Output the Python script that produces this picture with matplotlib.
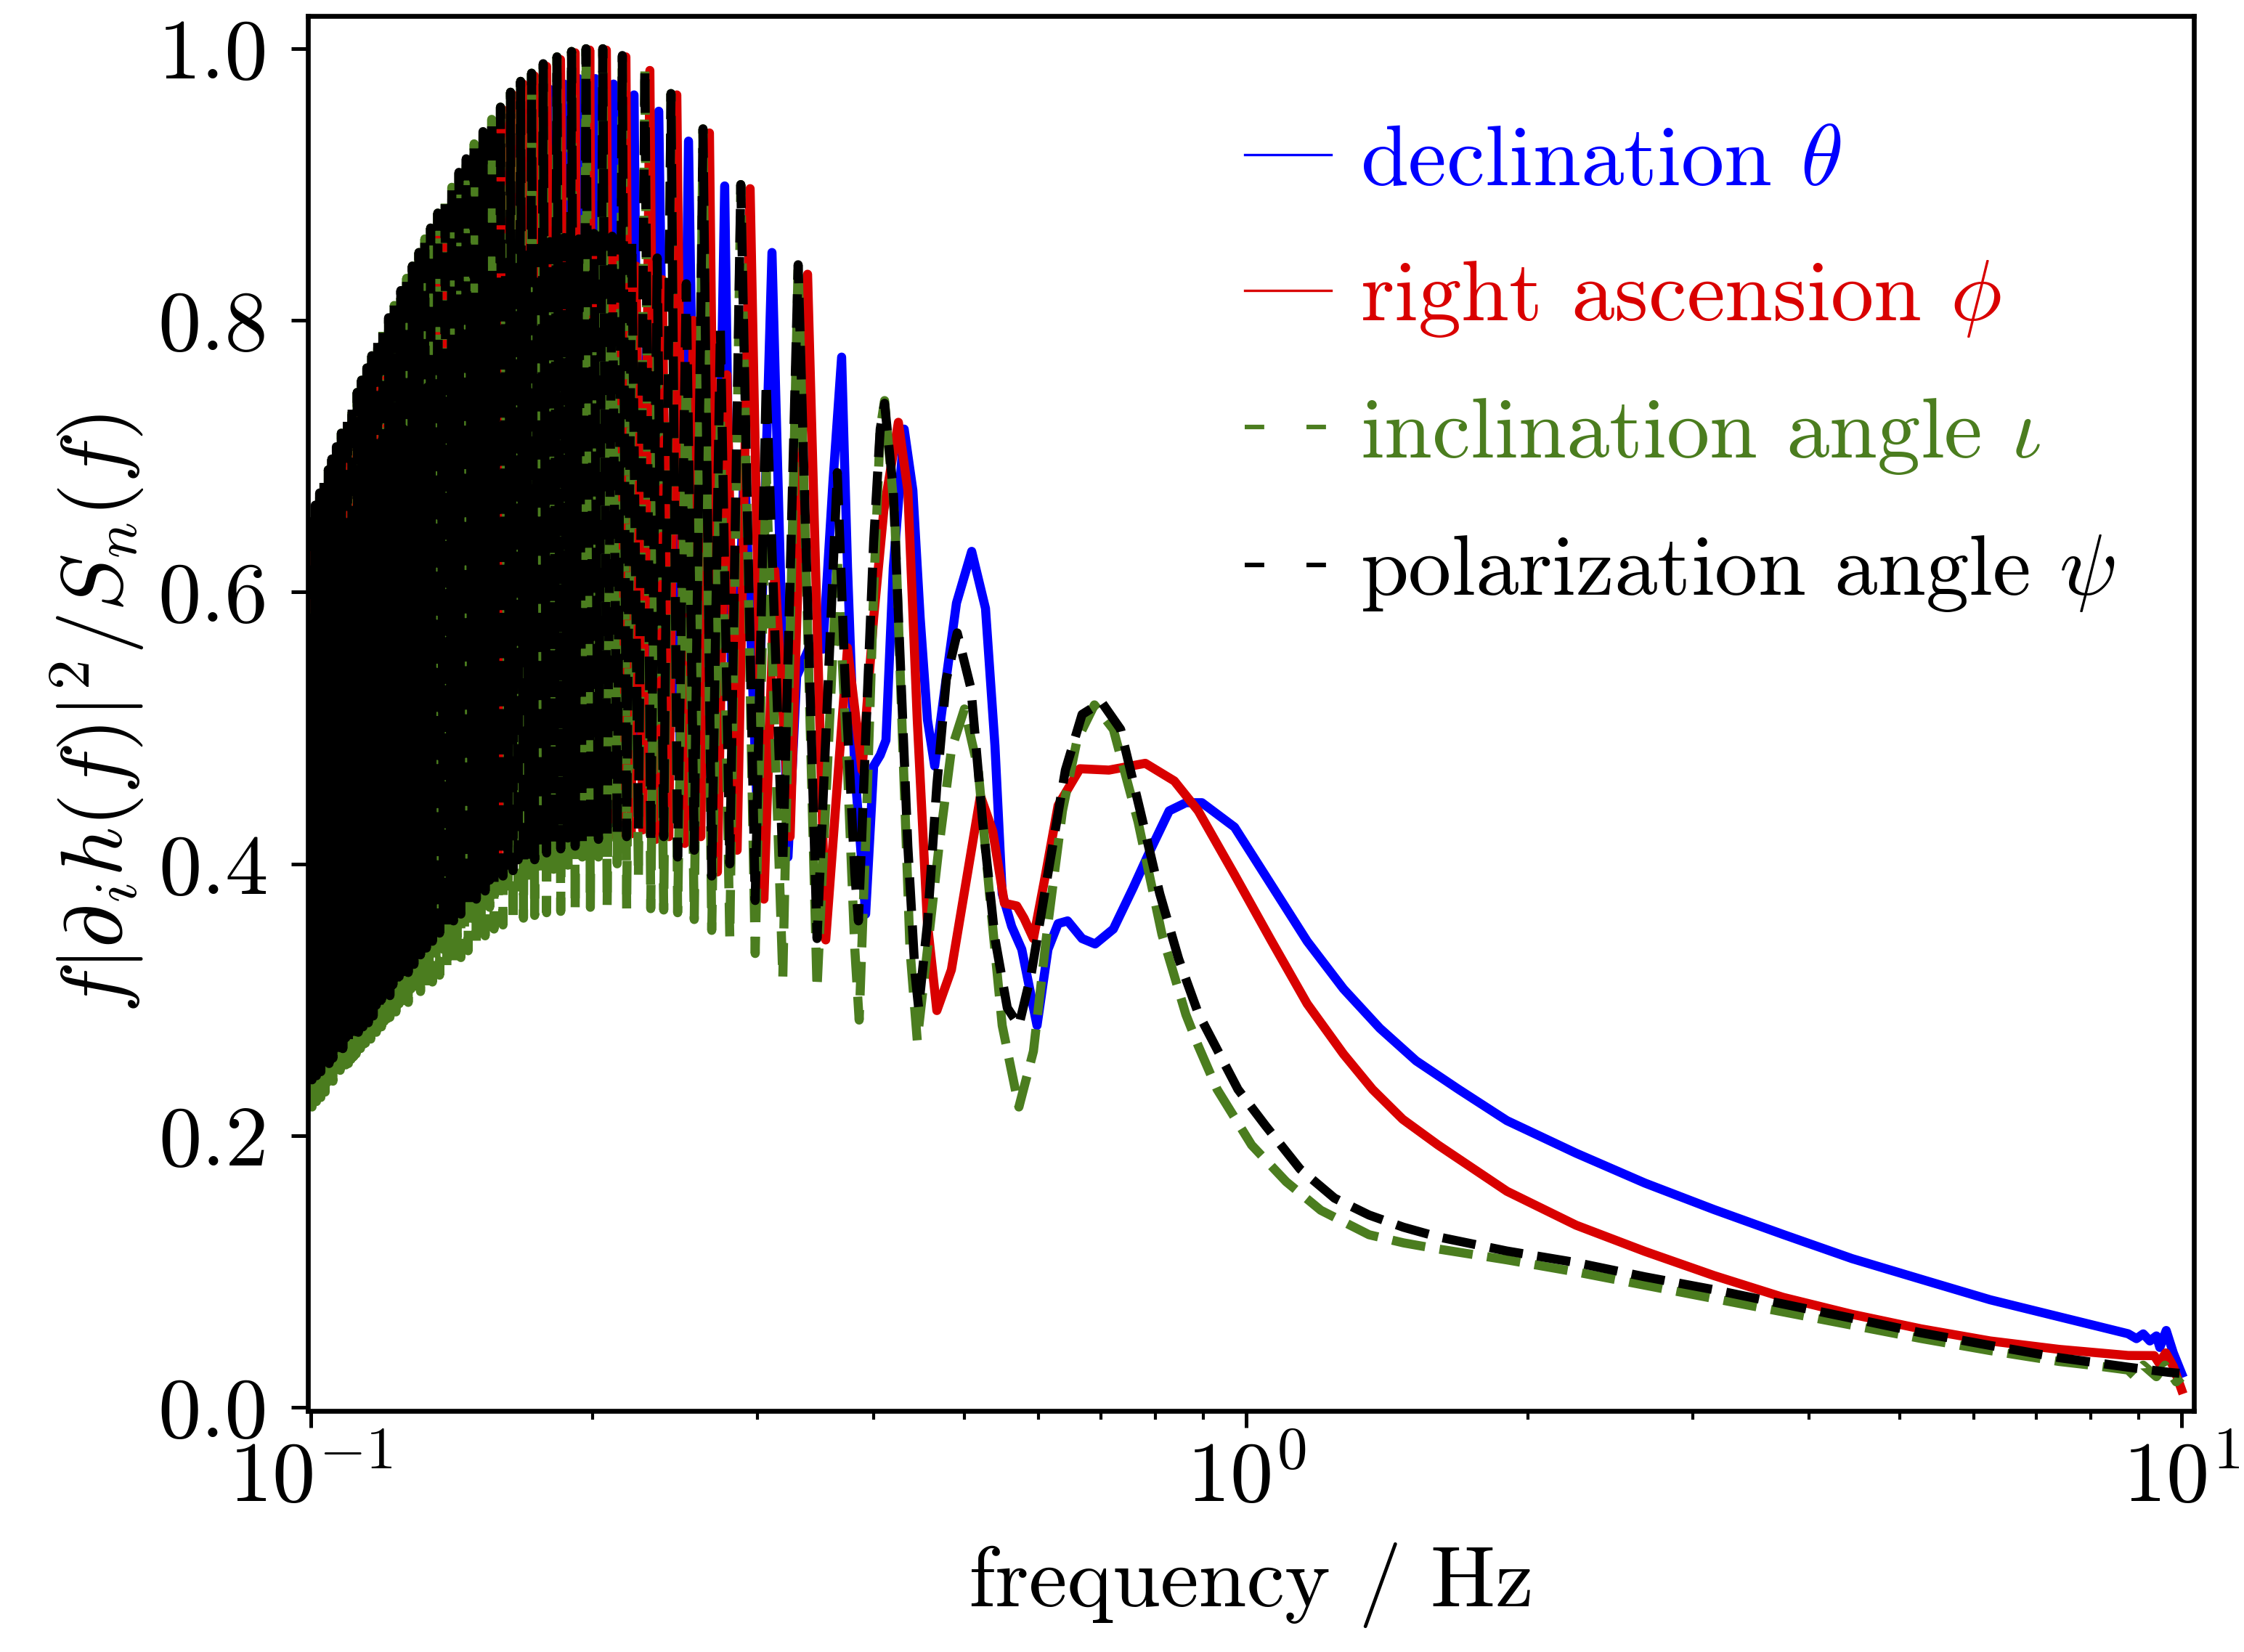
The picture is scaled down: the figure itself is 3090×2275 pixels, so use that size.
import numpy as np
import matplotlib
matplotlib.use("Agg")
import matplotlib.pyplot as plt
from matplotlib.lines import Line2D
from matplotlib.ticker import LogLocator, NullFormatter

# ---------------- data ----------------
# frequency in Hz, value of f|d_i h(f)|^2 / S_n(f)

# ---- polarization angle psi (black) ----
black_peak_f = [0.1000, 0.1011, 0.1022, 0.1033, 0.1044, 0.1053, 0.1065, 0.1078, 0.1094, 0.1107,
                0.1121, 0.1133, 0.1148, 0.1162, 0.1179, 0.1194, 0.1211, 0.1228, 0.1248, 0.1266,
                0.1284, 0.1305, 0.1324, 0.1343, 0.1367, 0.1392, 0.1415, 0.1440, 0.1466, 0.1495,
                0.1528, 0.1561, 0.1595, 0.1635, 0.1676, 0.1722, 0.1772, 0.1833, 0.1900]
black_peak_v = [0.655, 0.664, 0.673, 0.682, 0.690, 0.698, 0.707, 0.717, 0.728, 0.738,
                0.747, 0.756, 0.765, 0.774, 0.785, 0.793, 0.802, 0.811, 0.822, 0.831,
                0.840, 0.850, 0.860, 0.868, 0.879, 0.889, 0.898, 0.909, 0.919, 0.930,
                0.939, 0.948, 0.957, 0.968, 0.976, 0.982, 0.989, 0.994, 0.998]
# frequencies half-way between the main black peaks
mid_f = [0.1005, 0.1016, 0.1027, 0.1038, 0.1048, 0.1059, 0.1071, 0.1086, 0.1100, 0.1114,
         0.1127, 0.1140, 0.1155, 0.1170, 0.1186, 0.1202, 0.1219, 0.1238, 0.1257, 0.1275,
         0.1294, 0.1314, 0.1333, 0.1355, 0.1379, 0.1403, 0.1427, 0.1453, 0.1480, 0.1511,
         0.1544, 0.1578, 0.1615, 0.1655, 0.1699, 0.1747, 0.1802, 0.1866]
# troughs on either side of each secondary peak
quarter_f = [0.1003, 0.1008, 0.1014, 0.1019, 0.1025, 0.1030, 0.1036, 0.1041, 0.1046, 0.1051,
             0.1056, 0.1062, 0.1068, 0.1075, 0.1082, 0.1090, 0.1097, 0.1104, 0.1111, 0.1118,
             0.1124, 0.1130, 0.1137, 0.1144, 0.1152, 0.1159, 0.1166, 0.1175, 0.1183, 0.1190,
             0.1198, 0.1207, 0.1215, 0.1224, 0.1233, 0.1243, 0.1253, 0.1262, 0.1271, 0.1280,
             0.1289, 0.1300, 0.1310, 0.1319, 0.1329, 0.1338, 0.1349, 0.1361, 0.1373, 0.1386,
             0.1398, 0.1409, 0.1421, 0.1434, 0.1447, 0.1460, 0.1473, 0.1488, 0.1503, 0.1520,
             0.1536, 0.1553, 0.1570, 0.1587, 0.1605, 0.1625, 0.1645, 0.1666, 0.1688, 0.1711,
             0.1735, 0.1760, 0.1787, 0.1818, 0.1850, 0.1883]
black_sec_f = mid_f
black_sec_v = [0.580, 0.587, 0.595, 0.602, 0.608, 0.615, 0.623, 0.632, 0.641, 0.649,
               0.657, 0.664, 0.672, 0.680, 0.688, 0.695, 0.703, 0.711, 0.720, 0.727,
               0.735, 0.744, 0.751, 0.759, 0.768, 0.776, 0.785, 0.794, 0.803, 0.811,
               0.819, 0.826, 0.835, 0.843, 0.848, 0.853, 0.858, 0.861]
black_trough_f = quarter_f
black_trough_v = [0.241, 0.249, 0.244, 0.252, 0.247, 0.255, 0.251, 0.259, 0.253, 0.261,
                  0.257, 0.265, 0.260, 0.268, 0.264, 0.272, 0.268, 0.276, 0.272, 0.280,
                  0.276, 0.284, 0.280, 0.288, 0.283, 0.291, 0.288, 0.296, 0.292, 0.300,
                  0.298, 0.306, 0.303, 0.311, 0.309, 0.317, 0.315, 0.323, 0.320, 0.328,
                  0.326, 0.334, 0.333, 0.341, 0.338, 0.346, 0.343, 0.351, 0.349, 0.357,
                  0.353, 0.361, 0.358, 0.366, 0.363, 0.371, 0.368, 0.376, 0.374, 0.382,
                  0.380, 0.388, 0.386, 0.394, 0.391, 0.399, 0.395, 0.403, 0.399, 0.407,
                  0.403, 0.411, 0.408, 0.416, 0.411, 0.419]
black_f = [0.1917, 0.1934, 0.1951, 0.1969, 0.1990, 0.2008, 0.2030, 0.2052, 0.2074, 0.2100,
           0.2126, 0.2153, 0.2176, 0.2204, 0.2240, 0.2276, 0.2309, 0.2346, 0.2384, 0.2427,
           0.2467, 0.2520, 0.2570, 0.2626, 0.2683, 0.2741, 0.2805, 0.2882, 0.2986, 0.3068,
           0.3196, 0.3319, 0.3477, 0.3655, 0.3721, 0.3816, 0.3850, 0.3926, 0.3997, 0.4062,
           0.4106, 0.4195, 0.4271, 0.4348, 0.4426, 0.4465, 0.4563, 0.4670, 0.4780, 0.4910,
           0.5079, 0.5227, 0.5388, 0.5554, 0.5715, 0.5891, 0.6139, 0.6408, 0.6677, 0.7006,
           0.7341, 0.7704, 0.8084, 0.8469, 0.8887, 0.980, 1.0485, 1.142, 1.243, 1.353,
           1.473, 1.604, 1.900, 2.253, 2.669, 3.164, 3.750, 4.444, 5.267, 6.243,
           7.398, 8.768, 9.69, 9.95]
black_v = [0.413, 0.860, 0.414, 1.000, 0.416, 0.864, 0.418, 1.000, 0.419, 0.862,
           0.420, 0.995, 0.420, 0.858, 0.425, 0.985, 0.415, 0.846, 0.420, 0.967,
           0.405, 0.827, 0.410, 0.941, 0.391, 0.793, 0.400, 0.900, 0.373, 0.754,
           0.400, 0.841, 0.345, 0.688, 0.544, 0.393, 0.358, 0.506, 0.637, 0.720,
           0.739, 0.675, 0.544, 0.413, 0.319, 0.294, 0.356, 0.458, 0.536, 0.570,
           0.529, 0.431, 0.345, 0.294, 0.281, 0.319, 0.393, 0.469, 0.510, 0.519,
           0.499, 0.439, 0.378, 0.330, 0.290, 0.234, 0.2074, 0.1753, 0.1539, 0.1415,
           0.1325, 0.1254, 0.1150, 0.1065, 0.0960, 0.0865, 0.0760, 0.0655, 0.0548, 0.0455,
           0.0365, 0.0295, 0.0257, 0.0250]

# ---- inclination angle iota (green) ----
green_peak_f = black_peak_f
green_peak_v = [0.655, 0.664, 0.673, 0.682, 0.690, 0.698, 0.707, 0.717, 0.728, 0.738,
                0.747, 0.756, 0.765, 0.774, 0.785, 0.793, 0.802, 0.811, 0.822, 0.831,
                0.840, 0.850, 0.860, 0.868, 0.879, 0.889, 0.898, 0.909, 0.919, 0.930,
                0.939, 0.948, 0.957, 0.968, 0.976, 0.982, 0.989, 0.994, 0.998]
green_sec_f = mid_f
green_sec_v = [0.582, 0.589, 0.597, 0.604, 0.610, 0.617, 0.625, 0.634, 0.643, 0.651,
               0.659, 0.666, 0.674, 0.682, 0.690, 0.697, 0.705, 0.713, 0.722, 0.729,
               0.737, 0.745, 0.752, 0.760, 0.768, 0.776, 0.784, 0.792, 0.800, 0.806,
               0.812, 0.816, 0.820, 0.822, 0.820, 0.815, 0.810, 0.805]
green_trough_f = quarter_f
green_trough_v = [0.221, 0.229, 0.225, 0.232, 0.228, 0.235, 0.232, 0.239, 0.236, 0.241,
                  0.240, 0.245, 0.244, 0.248, 0.249, 0.252, 0.253, 0.256, 0.258, 0.260,
                  0.263, 0.264, 0.267, 0.268, 0.271, 0.271, 0.276, 0.276, 0.280, 0.280,
                  0.284, 0.286, 0.287, 0.291, 0.291, 0.297, 0.295, 0.303, 0.298, 0.308,
                  0.302, 0.314, 0.306, 0.321, 0.309, 0.326, 0.313, 0.331, 0.318, 0.337,
                  0.322, 0.341, 0.326, 0.346, 0.331, 0.351, 0.336, 0.356, 0.341, 0.362,
                  0.347, 0.368, 0.352, 0.374, 0.355, 0.379, 0.357, 0.383, 0.360, 0.387,
                  0.362, 0.391, 0.364, 0.396, 0.365, 0.399]
green_f = [0.1917, 0.1934, 0.1951, 0.1969, 0.1990, 0.2008, 0.2030, 0.2052, 0.2074, 0.2100,
           0.2126, 0.2153, 0.2176, 0.2204, 0.2240, 0.2276, 0.2309, 0.2346, 0.2384, 0.2427,
           0.2467, 0.2520, 0.2570, 0.2626, 0.2683, 0.2741, 0.2805, 0.2882, 0.2986, 0.3068,
           0.3196, 0.3319, 0.3477, 0.3655, 0.3748, 0.3816, 0.3857, 0.3926, 0.3997, 0.4062,
           0.4106, 0.4210, 0.4294, 0.4371, 0.4450, 0.4563, 0.4695, 0.4840, 0.4998, 0.5171,
           0.5321, 0.5485, 0.5715, 0.5923, 0.6139, 0.6362, 0.6594, 0.6883, 0.7211, 0.7663,
           0.8128, 0.8621, 0.8887, 0.931, 1.0135, 1.1036, 1.2016, 1.353, 1.473, 1.604,
           1.900, 2.253, 2.669, 3.164, 3.750, 4.444, 5.267, 6.243, 7.398, 8.0,
           8.768, 8.9, 9.1, 9.4, 9.6, 9.87, 10.0]
green_v = [0.366, 0.800, 0.405, 1.000, 0.368, 0.800, 0.405, 1.000, 0.369, 0.795,
           0.400, 0.995, 0.367, 0.790, 0.390, 0.985, 0.367, 0.780, 0.366, 0.967,
           0.364, 0.760, 0.359, 0.941, 0.351, 0.730, 0.346, 0.900, 0.334, 0.690,
           0.316, 0.841, 0.308, 0.626, 0.469, 0.337, 0.285, 0.431, 0.600, 0.720,
           0.741, 0.656, 0.487, 0.337, 0.270, 0.337, 0.413, 0.484, 0.514, 0.469,
           0.375, 0.281, 0.221, 0.262, 0.356, 0.439, 0.491, 0.517, 0.499, 0.431,
           0.348, 0.289, 0.266, 0.234, 0.193, 0.166, 0.145, 0.127, 0.121, 0.1165,
           0.1085, 0.0996, 0.0898, 0.0800, 0.0702, 0.0604, 0.0506, 0.0417, 0.0337, 0.031,
           0.0274, 0.023, 0.031, 0.0225, 0.031, 0.0187, 0.022]

# ---- right ascension phi (red) ----
red_peak_f = [0.1003, 0.1014, 0.1025, 0.1036, 0.1046, 0.1056, 0.1068, 0.1082, 0.1097, 0.1110,
              0.1124, 0.1137, 0.1152, 0.1166, 0.1183, 0.1198, 0.1215, 0.1233, 0.1252, 0.1271,
              0.1289, 0.1310, 0.1329, 0.1349, 0.1373, 0.1398, 0.1421, 0.1446, 0.1473, 0.1503,
              0.1536, 0.1569, 0.1605, 0.1645, 0.1687, 0.1734, 0.1787, 0.1849, 0.1917]
red_peak_v = [0.643, 0.652, 0.661, 0.670, 0.678, 0.686, 0.695, 0.705, 0.716, 0.726,
              0.735, 0.744, 0.753, 0.762, 0.773, 0.781, 0.790, 0.799, 0.810, 0.819,
              0.828, 0.838, 0.848, 0.856, 0.867, 0.877, 0.886, 0.897, 0.907, 0.918,
              0.937, 0.946, 0.955, 0.966, 0.974, 0.980, 0.987, 0.992, 0.997]
red_trough_f = [0.1008, 0.1019, 0.1030, 0.1041, 0.1050, 0.1062, 0.1074, 0.1090, 0.1103, 0.1117,
                0.1130, 0.1144, 0.1159, 0.1174, 0.1190, 0.1206, 0.1223, 0.1243, 0.1261, 0.1280,
                0.1299, 0.1319, 0.1338, 0.1361, 0.1385, 0.1409, 0.1433, 0.1460, 0.1487, 0.1519,
                0.1552, 0.1587, 0.1625, 0.1665, 0.1711, 0.1760, 0.1818, 0.1883]
red_trough_v = [0.249, 0.252, 0.255, 0.259, 0.261, 0.265, 0.268, 0.272, 0.276, 0.280,
                0.284, 0.288, 0.291, 0.296, 0.300, 0.306, 0.311, 0.317, 0.323, 0.328,
                0.334, 0.341, 0.346, 0.351, 0.357, 0.361, 0.366, 0.371, 0.376, 0.382,
                0.388, 0.394, 0.399, 0.403, 0.407, 0.411, 0.416, 0.419]
red_f = [0.1934, 0.1951, 0.1969, 0.1987, 0.2008, 0.2026, 0.2048, 0.2070, 0.2096, 0.2123,
         0.2149, 0.2172, 0.2200, 0.2227, 0.2264, 0.2304, 0.2338, 0.2376, 0.2414, 0.2462,
         0.2511, 0.2565, 0.2612, 0.2668, 0.2721, 0.2785, 0.2856, 0.2949, 0.3051, 0.3134,
         0.3254, 0.3397, 0.3552, 0.3748, 0.3884, 0.3997, 0.4098, 0.4248, 0.4348, 0.4450,
         0.4563, 0.4670, 0.4840, 0.5016, 0.5199, 0.5359, 0.5515, 0.5685, 0.5787, 0.5923,
         0.6106, 0.6294, 0.6641, 0.7133, 0.7801, 0.8379, 0.8887, 0.9718, 1.0627, 1.1620,
         1.2706, 1.3648, 1.470, 1.604, 1.900, 2.253, 2.669, 3.164, 3.750, 4.444,
         5.267, 6.243, 7.398, 8.768, 9.35, 9.46, 9.62, 9.80, 10.0]
red_v = [0.415, 0.850, 0.416, 0.999, 0.418, 0.855, 0.420, 0.999, 0.421, 0.850,
         0.422, 0.994, 0.422, 0.840, 0.425, 0.984, 0.418, 0.830, 0.420, 0.966,
         0.415, 0.800, 0.420, 0.938, 0.394, 0.760, 0.410, 0.897, 0.374, 0.616,
         0.420, 0.834, 0.344, 0.559, 0.469, 0.581, 0.660, 0.725, 0.675, 0.506,
         0.356, 0.292, 0.322, 0.386, 0.450, 0.424, 0.371, 0.369, 0.360, 0.345,
         0.393, 0.443, 0.470, 0.469, 0.474, 0.461, 0.439, 0.392, 0.344, 0.297,
         0.260, 0.234, 0.212, 0.193, 0.159, 0.134, 0.1147, 0.0969, 0.0809, 0.0684,
         0.0577, 0.0488, 0.0426, 0.0381, 0.038, 0.0326, 0.040, 0.030, 0.013]

# ---- declination theta (blue) ----
blue_peak_f = mid_f
blue_peak_v = [0.610, 0.619, 0.628, 0.636, 0.644, 0.653, 0.662, 0.673, 0.683, 0.693,
               0.702, 0.711, 0.720, 0.730, 0.739, 0.748, 0.757, 0.767, 0.777, 0.786,
               0.795, 0.805, 0.814, 0.824, 0.834, 0.844, 0.854, 0.864, 0.875, 0.885,
               0.894, 0.903, 0.913, 0.922, 0.957, 0.964, 0.970, 0.974]
blue_trough_f = black_peak_f[:38]
blue_trough_v = [0.268, 0.271, 0.274, 0.277, 0.281, 0.283, 0.287, 0.290, 0.294, 0.298,
                 0.302, 0.306, 0.310, 0.313, 0.318, 0.322, 0.328, 0.333, 0.339, 0.345,
                 0.350, 0.356, 0.363, 0.368, 0.373, 0.379, 0.383, 0.388, 0.393, 0.398,
                 0.404, 0.410, 0.416, 0.421, 0.425, 0.429, 0.433, 0.438]
blue_f = [0.1900, 0.1934, 0.1955, 0.1976, 0.1994, 0.2015, 0.2037, 0.2063, 0.2085, 0.2107,
          0.2134, 0.2161, 0.2188, 0.2216, 0.2251, 0.2284, 0.2317, 0.2355, 0.2410, 0.2445,
          0.2484, 0.2534, 0.2598, 0.2649, 0.2702, 0.2770, 0.2830, 0.2907, 0.2997, 0.3112,
          0.3237, 0.3307, 0.3415, 0.3527, 0.3616, 0.3694, 0.3748, 0.3816, 0.3919, 0.3997,
          0.4062, 0.4120, 0.4195, 0.4309, 0.4402, 0.4482, 0.4563, 0.4645, 0.4754, 0.4901,
          0.5088, 0.5264, 0.5388, 0.5485, 0.5614, 0.5756, 0.5976, 0.6139, 0.6294, 0.6443,
          0.6677, 0.6895, 0.7211, 0.7567, 0.7885, 0.8274, 0.8621, 0.8967, 0.9718, 1.0627,
          1.1620, 1.2706, 1.3895, 1.5195, 1.687, 1.900, 2.253, 2.669, 3.164, 3.750,
          4.444, 5.267, 6.243, 7.398, 8.768, 8.95, 9.10, 9.25, 9.40, 9.48,
          9.63, 9.80, 10.0]
blue_v = [0.444, 0.978, 0.450, 0.800, 0.450, 0.978, 0.450, 0.800, 0.450, 0.974,
          0.460, 0.800, 0.460, 0.966, 0.465, 0.790, 0.465, 0.954, 0.464, 0.770,
          0.470, 0.932, 0.451, 0.740, 0.460, 0.899, 0.432, 0.700, 0.450, 0.850,
          0.405, 0.538, 0.560, 0.558, 0.681, 0.773, 0.618, 0.469, 0.363, 0.472,
          0.480, 0.491, 0.618, 0.720, 0.675, 0.581, 0.506, 0.472, 0.525, 0.592,
          0.630, 0.588, 0.487, 0.378, 0.354, 0.337, 0.281, 0.337, 0.356, 0.358,
          0.345, 0.341, 0.352, 0.382, 0.409, 0.439, 0.445, 0.445, 0.427, 0.385,
          0.343, 0.308, 0.279, 0.255, 0.234, 0.211, 0.187, 0.1650, 0.1455, 0.1272,
          0.1094, 0.0942, 0.0791, 0.0666, 0.0541, 0.0505, 0.0540, 0.0488, 0.0525, 0.0440,
          0.0565, 0.0400, 0.0250]

XTICKS = [0.1, 1.0, 10.0]
XTICK_LABELS = [r"$10^{-1}$", r"$10^{0}$", r"$10^{1}$"]
YTICKS = [0.0, 0.2, 0.4, 0.6, 0.8, 1.0]
YTICK_LABELS = ["0.0", "0.2", "0.4", "0.6", "0.8", "1.0"]
LABELS = [r"declination $\theta$", r"right ascension $\phi$",
          r"inclination angle $\iota$", r"polarization angle $\psi$"]

C_BLUE = "#0000ff"
C_RED = "#d90000"
C_GREEN = "#4b7d1f"
C_BLACK = "#000000"


def assemble(*pairs):
    fs, vs = [], []
    for f, v in pairs:
        n = min(len(f), len(v))
        fs += list(f[:n])
        vs += list(v[:n])
    fs = np.asarray(fs, float)
    vs = np.asarray(vs, float)
    o = np.argsort(fs, kind="stable")
    return fs[o], vs[o]


bf, bv = assemble((blue_peak_f, blue_peak_v), (blue_trough_f, blue_trough_v), (blue_f, blue_v))
rf, rv = assemble((red_peak_f, red_peak_v), (red_trough_f, red_trough_v), (red_f, red_v))
gf, gv = assemble((green_peak_f, green_peak_v), (green_sec_f, green_sec_v),
                  (green_trough_f, green_trough_v), (green_f, green_v))
kf, kv = assemble((black_peak_f, black_peak_v), (black_sec_f, black_sec_v),
                  (black_trough_f, black_trough_v), (black_f, black_v))

FS = 28.5
plt.rcParams.update({
    "font.family": "serif",
    "font.serif": ["cmr10"],
    "mathtext.fontset": "cm",
    "axes.formatter.use_mathtext": True,
    "axes.unicode_minus": False,
    "font.size": FS,
})

fig = plt.figure(figsize=(10.3, 2275 / 300), dpi=300)
ax = fig.add_axes([424 / 3090, 1 - 1943 / 2275, (3021 - 424) / 3090, (1943 - 22) / 2275])
ax.set_xscale("log")

LW = 3.0
ax.plot(bf, bv, color=C_BLUE, lw=LW, ls="-")
ax.plot(rf, rv, color=C_RED, lw=LW, ls="-")
ax.plot(gf, gv, color=C_GREEN, lw=LW, ls="--")
ax.plot(kf, kv, color=C_BLACK, lw=LW, ls="--")

ax.set_xlim(0.09929, 10.309)
ax.set_ylim(-0.0027, 1.0241)

ax.set_xticks(XTICKS)
ax.set_xticklabels(XTICK_LABELS)
ax.xaxis.set_minor_locator(LogLocator(base=10, subs=np.arange(2, 10)))
ax.xaxis.set_minor_formatter(NullFormatter())
ax.set_yticks(YTICKS)
ax.set_yticklabels(YTICK_LABELS)
ax.tick_params(which="major", length=5.6, width=1.2, labelsize=FS, direction="out")
ax.tick_params(which="minor", length=2.9, width=1.0, direction="out")
ax.tick_params(axis="y", pad=7.5)
ax.tick_params(axis="x", pad=4)
for sp in ax.spines.values():
    sp.set_linewidth(1.6)

ax.set_xlabel("frequency / Hz", fontsize=FS, labelpad=8)
ax.set_ylabel(r"$f|\partial_i h(f)|^2/S_n(f)$", fontsize=FS, labelpad=4)

handles = [
    Line2D([], [], color=C_BLUE, lw=0.8, ls="-"),
    Line2D([], [], color=C_RED, lw=0.8, ls="-"),
    Line2D([], [], color=C_GREEN, lw=1.5, ls=(0, (4.3, 9.3))),
    Line2D([], [], color=C_BLACK, lw=1.5, ls=(0, (4.3, 9.3))),
]
leg = ax.legend(handles, LABELS, loc="upper left", bbox_to_anchor=(0.4967, 0.922),
                frameon=False, fontsize=FS, handlelength=1.0, handletextpad=0.34,
                labelspacing=0.66, borderaxespad=0.0, borderpad=0.0,
                labelcolor="linecolor")

fig.savefig("out.png", dpi=300)
